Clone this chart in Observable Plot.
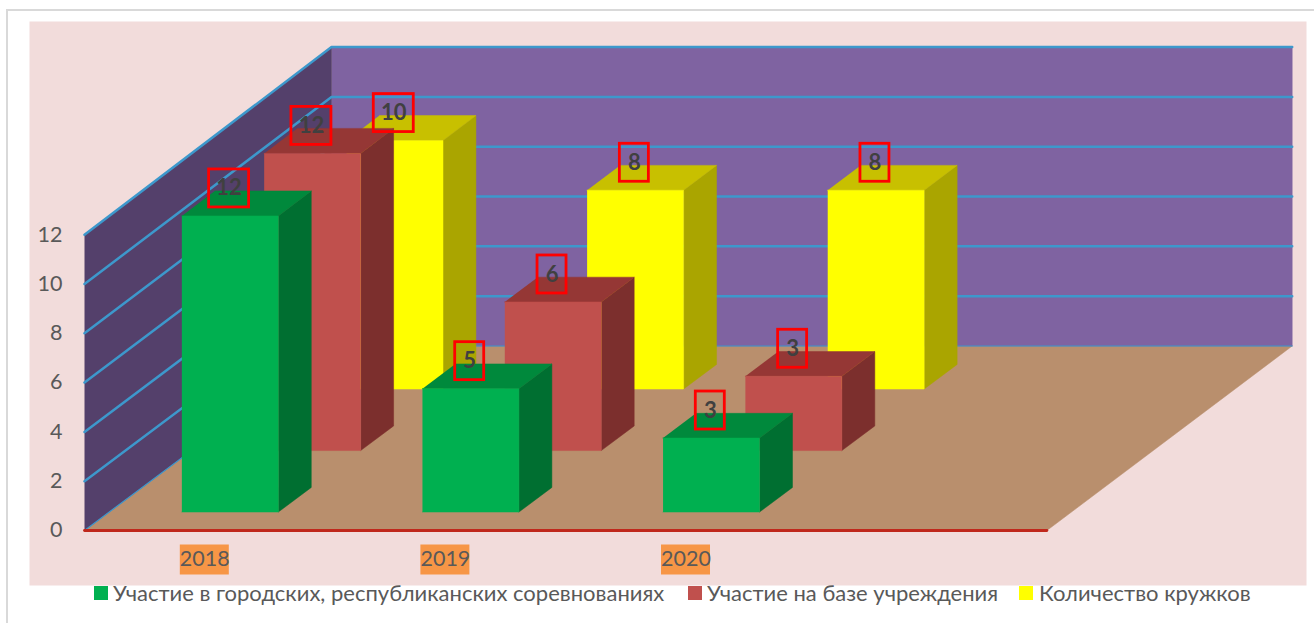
<!DOCTYPE html>
<html lang="ru">
<head>
<meta charset="utf-8">
<script src="https://cdn.jsdelivr.net/npm/d3@7"></script>
<script src="https://cdn.jsdelivr.net/npm/@observablehq/plot@0.6"></script>
<style>
  html, body { margin: 0; padding: 0; background: #fff; width: 1314px; height: 623px; overflow: hidden; }
  #page { position: relative; width: 1314px; height: 623px; font-family: Lato, "Noto Sans", sans-serif; }
  #edge { position: absolute; left: 6px; top: 9px; right: 0; bottom: 0; border-left: 2px solid #d9d9d9; border-top: 2px solid #d9d9d9; }
  #chart { position: absolute; left: 0; top: 0; }
  #legend { position: absolute; left: 0; top: 582px; width: 1314px; height: 22px; color: #595959; font-size: 22px; line-height: 22px; white-space: nowrap; }
  #legend i { position: absolute; top: 4px; width: 14px; height: 14px; display: block; }
  #legend span { position: absolute; top: 0; }
</style>
</head>
<body>
<div id="page">
  <div id="edge"></div>
  <div id="chart"></div>
  <div id="legend"></div>
</div>
<script>
// ---- data
const categories = ["2018", "2019", "2020"];
const seriesNames = [
  "Участие в городских, республиканских соревнованиях",
  "Участие на базе учреждения",
  "Количество кружков"
];
const competitions = [12, 5, 3];
const onSite = [12, 6, 3];
const clubs = [10, 8, 8];
const yTicks = [0, 2, 4, 6, 8, 10, 12];

// ---- styles
const faceColors = [
  {front: "#00b050", top: "#00893c", side: "#006f31"},
  {front: "#c0504d", top: "#953735", side: "#7c2f2d"},
  {front: "#ffff00", top: "#c8c000", side: "#aaa500"}
];
const legendLeft = [[94, 113], [688, 707], [1019, 1039]];

// ---- oblique projection: u = category slot, w = depth slot, v = value
const PX_U = 240.6, PX_V = 24.65, PX_WX = 82.33, PX_WY = 61.5;
const X0 = 84, Y0 = 530, W = 1314, H = 585, PANEL_L = 29, PANEL_R = 1306, PANEL_T = 21;
const slots = 4, depth = 3, vMax = 12;
const px = (u, w) => u + w * PX_WX / PX_U;
const py = (v, w) => v * (1 + 0.0035 * w) + w * PX_WY / PX_V;
const pt = (u, w, v) => ({x: px(u, w), y: py(v, w)});

const barU = 0.302, barUW = 0.401, barW = 0.3, barD = 0.4;
const seriesValues = [competitions, onSite, clubs];

// polygons, back to front
const faces = [];
let id = 0;
const addFace = (color, pts) => { const k = id++; pts.forEach(p => faces.push({...p, k, color})); };

const backU = 3.993;
addFace("#b98f6d", [pt(0,0,0), pt(slots,0,0), pt(backU,depth,0), pt(0,depth,0)]);
addFace("#7f63a1", [pt(0,depth,0), pt(backU,depth,0), pt(backU,depth,vMax), pt(0,depth,vMax)]);
addFace("#54406b", [pt(0,0,0), pt(0,depth,0), pt(0,depth,vMax), pt(0,0,vMax)]);

const grid = [];
yTicks.forEach(v => {
  [pt(0,0,v), pt(0,depth,v), pt(backU,depth,v)].forEach(p => grid.push({...p, v}));
});

const labels = [];
[2, 1, 0].forEach(s => {
  const c = faceColors[s];
  categories.forEach((_, i) => {
    const v = seriesValues[s][i];
    const u0 = i + barU, u1 = u0 + barUW, w0 = s + barW, w1 = w0 + barD;
    addFace(c.side, [pt(u1,w0,0), pt(u1,w1,0), pt(u1,w1,v), pt(u1,w0,v)]);
    addFace(c.top,  [pt(u0,w0,v), pt(u1,w0,v), pt(u1,w1,v), pt(u0,w1,v)]);
    addFace(c.front,[pt(u0,w0,0), pt(u1,w0,0), pt(u1,w0,v), pt(u0,w0,v)]);
    labels.push({...pt((u0 + u1) / 2, w0, v), value: v});
  });
});
const wallFaceCount = 3;

// label boxes are sized in pixels, converted to data units
const LABEL_DY = 27.5, LABEL_DX = 1;
const boxes = labels.map(d => {
  const hw = (String(d.value).length > 1 ? 20 : 14.5) / PX_U, hh = 19 / PX_V;
  const cy = d.y + LABEL_DY / PX_V, cx = d.x - LABEL_DX / PX_U;
  return {x1: cx - hw, x2: cx + hw, y1: cy - hh, y2: cy + hh};
});

const catBoxes = categories.map((c, i) => ({
  x1: i + 0.5 - 24.5 / PX_U, x2: i + 0.5 + 24.5 / PX_U,
  y1: -44.5 / PX_V, y2: -14.5 / PX_V
}));

const isWall = d => d.k < wallFaceCount;
const polygon = rows => Plot.line(rows, {
  x: "x", y: "y", z: "k", fill: "color", stroke: "color", strokeWidth: 0.5, curve: "linear"
});

const chart = Plot.plot({
  width: W, height: H,
  marginLeft: PANEL_L, marginRight: W - PANEL_R, marginTop: PANEL_T, marginBottom: 0,
  style: {background: "transparent", fontFamily: "Lato, 'Noto Sans', sans-serif", overflow: "visible"},
  x: {domain: [0, (PANEL_R - X0) / PX_U], range: [X0, PANEL_R], axis: null},
  y: {domain: [(Y0 - H) / PX_V, (Y0 - PANEL_T) / PX_V], range: [H, PANEL_T], axis: null},
  color: {type: "identity"},
  marks: [
    Plot.frame({fill: "#f2dcdb", stroke: "none"}),
    polygon(faces.filter(isWall)),
    Plot.line(grid, {x: "x", y: "y", z: "v", stroke: "#3d98cc", strokeWidth: d => d.v === 0 ? 1.2 : 2.5, curve: "linear"}),
    polygon(faces.filter(d => !isWall(d))),
    Plot.line([pt(0,0,0), pt(slots,0,0)], {x: "x", y: "y", stroke: "#c0281c", strokeWidth: 2.8}),
    Plot.rect(catBoxes, {x1: "x1", x2: "x2", y1: "y1", y2: "y2", fill: "#f79646"}),
    Plot.text(categories, {
      x: (d, i) => i + 0.5, y: () => 0, text: d => d, dy: 29,
      fontSize: 21.5, fill: "#595959", textAnchor: "middle", lineAnchor: "middle"
    }),
    Plot.axisY({
      ticks: yTicks, x: 0, anchor: "left", tickSize: 0, tickPadding: 22, label: null,
      fontSize: 21.5, color: "#595959", tickFormat: d => String(d)
    }),
    Plot.rect(boxes, {x1: "x1", x2: "x2", y1: "y1", y2: "y2", fill: "none", stroke: "#ff0000", strokeWidth: 2.8}),
    Plot.text(labels, {
      x: "x", y: "y", text: d => String(d.value), dy: -LABEL_DY, dx: -LABEL_DX,
      fontSize: 22, fontWeight: 700, fill: "#404040", textAnchor: "middle", lineAnchor: "middle"
    })
  ]
});
document.getElementById("chart").append(chart);

const legend = document.getElementById("legend");
seriesNames.forEach((name, i) => {
  const sw = document.createElement("i");
  sw.style.left = legendLeft[i][0] + "px";
  sw.style.background = faceColors[i].front;
  const t = document.createElement("span");
  t.style.left = legendLeft[i][1] + "px";
  t.textContent = name;
  legend.append(sw, t);
});
</script>
</body>
</html>
